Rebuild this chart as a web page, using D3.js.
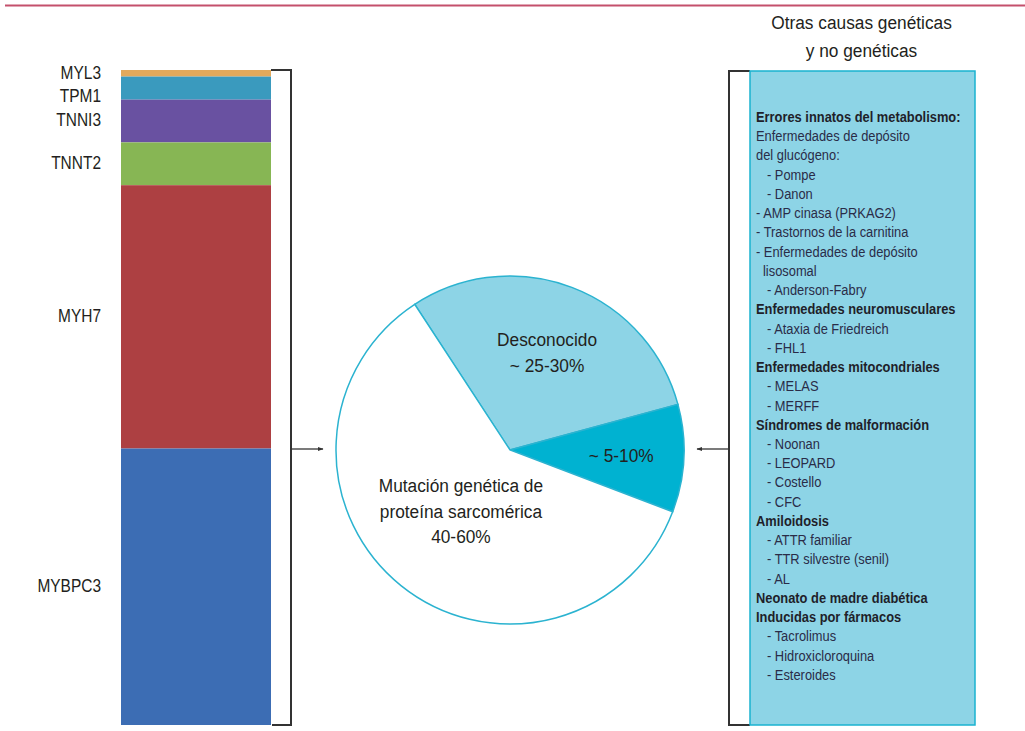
<!DOCTYPE html>
<html>
<head>
<meta charset="utf-8">
<script src="https://cdn.jsdelivr.net/npm/d3@7"></script>
<style>
	body { margin: 0; background: #fff; }
	svg text { font-family: "Liberation Sans", Arial, sans-serif; fill: #231f20; }
</style>
</head>
<body>
<div id="chart"></div>
<script>
// genes of the stacked bar (top to bottom) and their approximate share
const genes = ['MYL3', 'TPM1', 'TNNI3', 'TNNT2', 'MYH7', 'MYBPC3'];
const geneShare = [1, 3.5, 6.5, 6.5, 40, 42];

// pie slices
const slices = ['Desconocido', 'Otras causas', 'Mutación sarcomérica'];
const sliceValues = [30, 10, 60];
const sliceLabels = [
	['Desconocido', '~ 25-30%'],
	['~ 5-10%'],
	['Mutación genética de', 'proteína sarcomérica', '40-60%']
];

const boxTitle = ['Otras causas genéticas', 'y no genéticas'];
// kind: head = bold header, item = plain, cont = wrapped line, sub = nested item
const boxLines = [
	{text: 'Errores innatos del metabolismo:', kind: 'head'},
	{text: 'Enfermedades de depósito', kind: 'item'},
	{text: 'del glucógeno:', kind: 'item'},
	{text: '- Pompe', kind: 'sub'},
	{text: '- Danon', kind: 'sub'},
	{text: '- AMP cinasa (PRKAG2)', kind: 'item'},
	{text: '- Trastornos de la carnitina', kind: 'item'},
	{text: '- Enfermedades de depósito', kind: 'item'},
	{text: 'lisosomal', kind: 'cont'},
	{text: '- Anderson-Fabry', kind: 'sub'},
	{text: 'Enfermedades neuromusculares', kind: 'head'},
	{text: '- Ataxia de Friedreich', kind: 'sub'},
	{text: '- FHL1', kind: 'sub'},
	{text: 'Enfermedades mitocondriales', kind: 'head'},
	{text: '- MELAS', kind: 'sub'},
	{text: '- MERFF', kind: 'sub'},
	{text: 'Síndromes de malformación', kind: 'head'},
	{text: '- Noonan', kind: 'sub'},
	{text: '- LEOPARD', kind: 'sub'},
	{text: '- Costello', kind: 'sub'},
	{text: '- CFC', kind: 'sub'},
	{text: 'Amiloidosis', kind: 'head'},
	{text: '- ATTR familiar', kind: 'sub'},
	{text: '- TTR silvestre (senil)', kind: 'sub'},
	{text: '- AL', kind: 'sub'},
	{text: 'Neonato de madre diabética', kind: 'head'},
	{text: 'Inducidas por fármacos', kind: 'head'},
	{text: '- Tacrolimus', kind: 'sub'},
	{text: '- Hidroxicloroquina', kind: 'sub'},
	{text: '- Esteroides', kind: 'sub'}
];

let width = 1025,
	height = 731;

// no condensed face is installed, so squeeze Liberation Sans horizontally
function place(sel, fx, fy, sx) {
	sel.attr('transform', (d, i) => `translate(${fx(d, i)},${fy(d, i)}) scale(${sx},1)`);
}

let svg = d3.select('#chart').append('svg').attr('width', width).attr('height', height);

svg.append('defs').append('marker')
	.attr('id', 'arrow').attr('viewBox', '0 0 10 10')
	.attr('refX', 9).attr('refY', 5)
	.attr('markerWidth', 4.5).attr('markerHeight', 4.5)
	.attr('orient', 'auto-start-reverse')
	.append('path').attr('d', 'M0,1.5L10,5L0,8.5Z').attr('fill', '#333');

// top rule
svg.append('line').attr('x1', 5).attr('x2', width).attr('y1', 5.5).attr('y2', 5.5)
	.attr('stroke', '#c4506c').attr('stroke-width', 2.2);

// ---- stacked bar ----
let geneColor = d3.scaleOrdinal().domain(genes)
	.range(['#e2a95c', '#3a9abe', '#6951a1', '#87b654', '#ad4042', '#3c6db4']);
let ends = d3.cumsum(geneShare);
let bars = genes.map((g, i) => ({gene: g, y0: ends[i] - geneShare[i], y1: ends[i]}));
let y = d3.scaleLinear().domain([0, d3.sum(geneShare)]).range([70, 725]);
let barX = 121, barW = 150;

svg.append('g').selectAll('rect').data(bars).enter().append('rect')
	.attr('x', barX).attr('width', barW)
	.attr('y', d => y(d.y0)).attr('height', d => y(d.y1) - y(d.y0))
	.attr('fill', d => geneColor(d.gene));

// labels at the segment middles, pushed apart where segments are thin
let labelY = [];
bars.forEach((d, i) => {
	let c = (y(d.y0) + y(d.y1)) / 2;
	if (i > 0) c = Math.max(c, labelY[i - 1] + 23);
	labelY.push(c);
});
svg.append('g').selectAll('text').data(bars).enter().append('text')
	.attr('dy', '0.35em')
	.attr('text-anchor', 'end').attr('font-size', 18)
	.text(d => d.gene)
	.call(place, () => 101, (d, i) => labelY[i] - 1, 0.86);

// left bracket and arrow
let cx = 510, cy = 450, r = 174;
svg.append('path')
	.attr('d', `M${barX + barW},${y(0)}H291V${y.range()[1]}H${barX + barW + 1}`)
	.attr('fill', 'none').attr('stroke', '#333').attr('stroke-width', 2);
svg.append('line').attr('x1', 291).attr('x2', cx - r - 13).attr('y1', cy - 1).attr('y2', cy - 1)
	.attr('stroke', '#333').attr('stroke-width', 1.3).attr('marker-end', 'url(#arrow)');

// ---- pie ----
let pie = d3.pie().sort(null).startAngle(-33.2 * Math.PI / 180).endAngle((360 - 33.2) * Math.PI / 180);
let arcs = pie(sliceValues);
let arc = d3.arc().innerRadius(0).outerRadius(r);
let sliceColor = d3.scaleOrdinal().domain(slices).range(['#8dd4e6', '#00b2d1', '#ffffff']);
let labelR = [0.6, 0.64, 0.45];

let pieG = svg.append('g').attr('transform', `translate(${cx},${cy})`);
pieG.selectAll('path').data(arcs).enter().append('path')
	.attr('d', arc)
	.attr('fill', (d, i) => sliceColor(slices[i]))
	.attr('stroke', '#2bb3d0').attr('stroke-width', 1.5);

let centroids = arcs.map((d, i) => d3.arc().innerRadius(0).outerRadius(2 * r * labelR[i]).centroid(d));
pieG.selectAll('text.slice').data(arcs).enter().append('text')
	.attr('class', 'slice')
	.attr('text-anchor', 'middle').attr('font-size', 19)
	.call(place, (d, i) => centroids[i][0], (d, i) => centroids[i][1], 0.91)
	.each(function (d, i) {
		let lines = sliceLabels[i];
		d3.select(this).selectAll('tspan').data(lines).enter().append('tspan')
			.attr('x', 0)
			.attr('y', (t, j) => (j - (lines.length - 1) / 2) * 25.5)
			.attr('dy', '0.35em')
			.text(t => t);
	});

// ---- right box ----
let boxX = 750, boxW = 225, boxTop = 71, boxBottom = 725;

svg.append('g').selectAll('text').data(boxTitle).enter().append('text')
	.attr('dy', '0.35em')
	.attr('text-anchor', 'middle').attr('font-size', 19)
	.text(d => d)
	.call(place, () => boxX + boxW / 2 - 1, (d, i) => 22 + i * 28, 0.91);

svg.append('path')
	.attr('d', `M${boxX},${boxTop}H729V${boxBottom}H${boxX}`)
	.attr('fill', 'none').attr('stroke', '#333').attr('stroke-width', 2);
svg.append('line').attr('x1', 729).attr('x2', cx + r + 13).attr('y1', cy - 1).attr('y2', cy - 1)
	.attr('stroke', '#333').attr('stroke-width', 1.3).attr('marker-end', 'url(#arrow)');

svg.append('rect').attr('x', boxX).attr('y', boxTop)
	.attr('width', boxW).attr('height', boxBottom - boxTop)
	.attr('fill', '#8dd4e6').attr('stroke', '#1ab3d0').attr('stroke-width', 1.5);

let lineY = d3.scalePoint().domain(d3.range(boxLines.length)).range([117, 675]);
let indent = {head: 0, item: 0, cont: 7, sub: 11};

svg.append('g').selectAll('text').data(boxLines).enter().append('text')
	.attr('dy', '0.35em')
	.attr('font-size', 14)
	.attr('font-weight', d => d.kind == 'head' ? 'bold' : 'normal')
	.style('fill', d => d.kind == 'head' ? '#1f1f2a' : '#2a2c48')
	.text(d => d.text)
	.call(place, d => boxX + 6 + indent[d.kind], (d, i) => lineY(i), 0.92);
</script>
</body>
</html>
